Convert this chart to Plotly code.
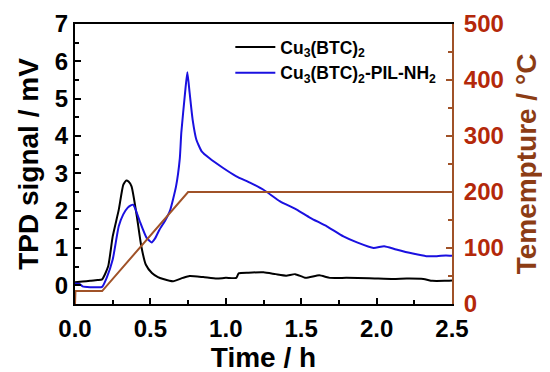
import plotly.graph_objects as go

# Time (h) and TPD signal (mV)
t_cu = [0, 0.05, 0.1, 0.15, 0.18, 0.22, 0.25, 0.29, 0.32, 0.34, 0.355, 0.375, 0.41, 0.44, 0.47, 0.51,
        0.55, 0.585, 0.65, 0.715, 0.76, 0.85, 0.94, 1.0, 1.07, 1.085, 1.15, 1.25, 1.33, 1.40, 1.46,
        1.53, 1.62, 1.69, 1.8, 1.95, 2.11, 2.2, 2.31, 2.37, 2.45, 2.5]
v_cu = [0.08, 0.1, 0.12, 0.14, 0.16, 0.51, 1.31, 2.02, 2.69, 2.81, 2.78, 2.65, 1.85, 1.04, 0.55, 0.33,
        0.22, 0.17, 0.11, 0.2, 0.25, 0.22, 0.18, 0.2, 0.2, 0.32, 0.34, 0.35, 0.3, 0.26, 0.3,
        0.2, 0.27, 0.2, 0.2, 0.19, 0.17, 0.18, 0.17, 0.12, 0.12, 0.13]

t_pil = [0, 0.03, 0.05, 0.1, 0.15, 0.18, 0.21, 0.25, 0.29, 0.32, 0.35, 0.37, 0.385, 0.40, 0.43, 0.475,
         0.508, 0.53, 0.56, 0.60, 0.63, 0.67, 0.695, 0.705, 0.73, 0.745, 0.76, 0.78, 0.805, 0.84, 0.89,
         0.98, 1.07, 1.16, 1.25, 1.36, 1.47, 1.56, 1.67, 1.78, 1.87, 1.98, 2.05, 2.13, 2.24, 2.33,
         2.40, 2.46, 2.5]
v_pil = [0.05, 0.04, -0.03, -0.05, -0.05, -0.04, 0.2, 0.69, 1.58, 1.9, 2.08, 2.14, 2.16, 2.05, 1.71, 1.27,
         1.15, 1.25, 1.49, 1.75, 2.0, 2.65, 3.4, 4.09, 5.16, 5.71, 5.16, 4.44, 3.9, 3.59, 3.41,
         3.15, 2.92, 2.75, 2.56, 2.25, 2.03, 1.81, 1.58, 1.31, 1.15, 1.0, 1.05, 0.96, 0.85, 0.78,
         0.78, 0.8, 0.79]

# Temperature program (°C)
t_temp = [0, 0.003, 0.18, 0.75, 2.5]
v_temp = [0, 23, 23, 200, 200]

x_ticks = [0.0, 0.5, 1.0, 1.5, 2.0, 2.5]

BROWN_LINE = "rgb(160,82,40)"
BROWN_TICK = "rgb(180,40,10)"
BROWN_TITLE = "rgb(140,60,20)"
FONT = "Liberation Sans, Arial, sans-serif"
TICK_SIZE = 24
TITLE_SIZE = 28

fig = go.Figure()
fig.add_trace(go.Scatter(x=t_cu, y=v_cu, mode="lines", name="<b>Cu<sub>3</sub>(BTC)<sub>2</sub></b>",
                         line=dict(color="black", width=2, shape="spline", smoothing=0.5)))
fig.add_trace(go.Scatter(x=t_pil, y=v_pil, mode="lines",
                         name="<b>Cu<sub>3</sub>(BTC)<sub>2</sub>-PIL-NH<sub>2</sub></b>",
                         line=dict(color="#1a10e0", width=2, shape="spline", smoothing=0.5)))
fig.add_trace(go.Scatter(x=t_temp, y=v_temp, mode="lines", yaxis="y2", showlegend=False,
                         line=dict(color=BROWN_LINE, width=2)))

fig.update_layout(
    width=550, height=372,
    margin=dict(l=67, r=106, t=16, b=76, autoexpand=False),
    paper_bgcolor="white", plot_bgcolor="white",
    font=dict(family=FONT, color="black"),
    showlegend=True,
    legend=dict(x=0.412, y=0.982, xanchor="left", yanchor="top", bgcolor="rgba(0,0,0,0)",
                font=dict(size=17.5, family=FONT), tracegroupgap=0, itemwidth=40),
    xaxis=dict(range=[0, 2.5], tickvals=x_ticks, ticktext=[f"{v:.1f}" for v in x_ticks],
               automargin=False, ticklabelstandoff=2,
               showgrid=False, zeroline=False, showline=True, linecolor="black", linewidth=2,
               mirror=True, ticks="inside", ticklen=6, tickwidth=2, tickcolor="black",
               minor=dict(dtick=0.25, ticks="inside", ticklen=4, tickwidth=1.5, tickcolor="black"),
               tickfont=dict(size=TICK_SIZE, family=FONT, weight="bold"),
               title=dict(text="<b>Time / h</b>", font=dict(size=TITLE_SIZE, family=FONT), standoff=0)),
    yaxis=dict(range=[-0.5, 7], dtick=1, tick0=0, showgrid=False, zeroline=False, showline=True,
               automargin=False, ticklabelstandoff=0,
               linecolor="black", linewidth=2, ticks="inside", ticklen=6, tickwidth=2, tickcolor="black",
               minor=dict(dtick=0.5, tick0=0, ticks="inside", ticklen=4, tickwidth=1.5, tickcolor="black"),
               tickfont=dict(size=TICK_SIZE, family=FONT, weight="bold"),
               title=dict(text="<b>TPD signal / mV</b>", font=dict(size=TITLE_SIZE, family=FONT), standoff=8)),
    yaxis2=dict(range=[0, 500], dtick=100, overlaying="y", side="right", showgrid=False, zeroline=False,
                automargin=False, ticklabelstandoff=5,
                showline=True, linecolor=BROWN_LINE, linewidth=2, ticks="inside", ticklen=6, tickwidth=2,
                tickcolor=BROWN_LINE,
                minor=dict(dtick=50, ticks="inside", ticklen=4, tickwidth=1.5, tickcolor=BROWN_LINE),
                tickfont=dict(size=TICK_SIZE, family=FONT, weight="bold", color=BROWN_TICK),
                title=dict(text="<b>Temempture / °C</b>", font=dict(size=TITLE_SIZE, family=FONT, color=BROWN_TITLE),
                           standoff=14)),
)

fig.write_html("out.html")
